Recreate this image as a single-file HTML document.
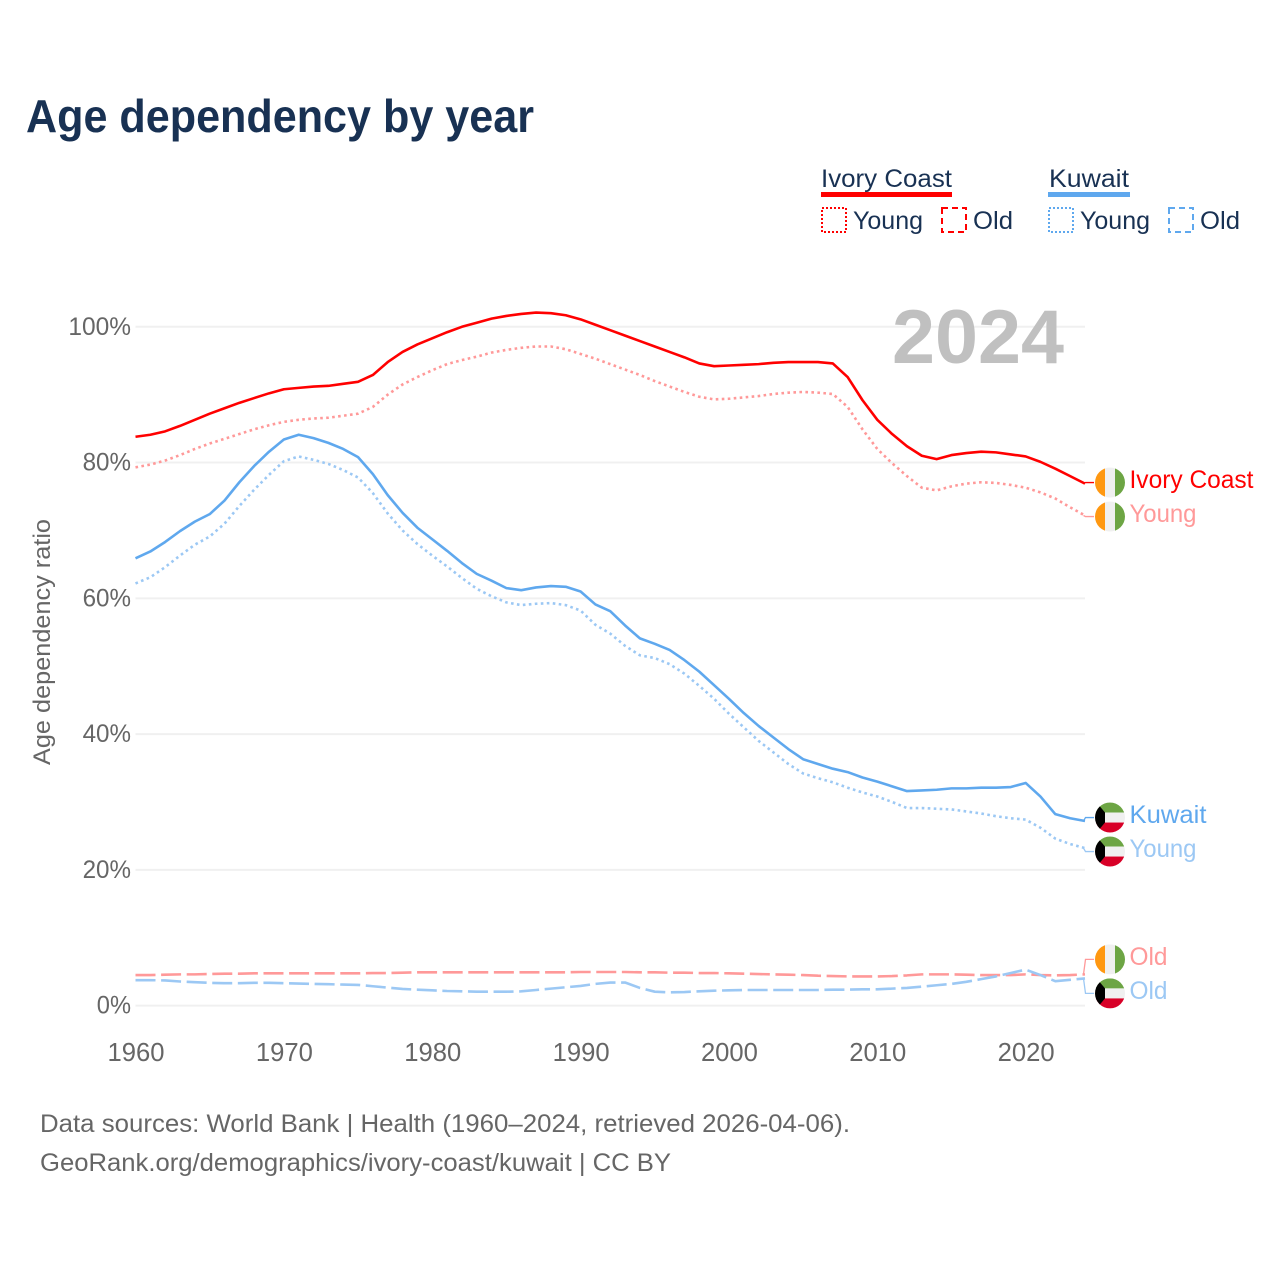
<!DOCTYPE html>
<html lang="en">
<head>
<meta charset="utf-8">
<title>Age dependency by year</title>
<style>
html,body{margin:0;padding:0;background:#fff;}
svg{display:block;font-family:"Liberation Sans",sans-serif;}
</style>
</head>
<body>
<svg id="chart" xmlns="http://www.w3.org/2000/svg" width="1280" height="1280" viewBox="0 0 1280 1280">
  <defs>
    <clipPath id="flag-clip"><circle cx="0" cy="0" r="15"></circle></clipPath>
  </defs>
  <rect x="0" y="0" width="1280" height="1280" fill="#ffffff"></rect>
  <text x="26" y="132" font-size="46" font-weight="700" fill="#183153" textLength="508" lengthAdjust="spacingAndGlyphs">Age dependency by year</text>

  <g>
    <text x="821" y="187" font-size="25" fill="#183153" textLength="131" lengthAdjust="spacingAndGlyphs">Ivory Coast</text>
    <rect x="821" y="192" width="131" height="5" fill="#ff0000"></rect>
    <rect x="822" y="208" width="24" height="24" fill="none" stroke="#ff0000" stroke-width="2" stroke-dasharray="2 2"></rect>
    <text x="853" y="229" font-size="25" fill="#183153" textLength="70" lengthAdjust="spacingAndGlyphs">Young</text>
    <rect x="942" y="208" width="24" height="24" fill="none" stroke="#ff0000" stroke-width="2" stroke-dasharray="6 4"></rect>
    <text x="973" y="229" font-size="25" fill="#183153" textLength="40" lengthAdjust="spacingAndGlyphs">Old</text>

    <text x="1049" y="187" font-size="25" fill="#183153" textLength="80" lengthAdjust="spacingAndGlyphs">Kuwait</text>
    <rect x="1048" y="192" width="82" height="5" fill="#5fa8ee"></rect>
    <rect x="1049" y="208" width="24" height="24" fill="none" stroke="#5fa8ee" stroke-width="2" stroke-dasharray="2 2"></rect>
    <text x="1080" y="229" font-size="25" fill="#183153" textLength="70" lengthAdjust="spacingAndGlyphs">Young</text>
    <rect x="1169" y="208" width="24" height="24" fill="none" stroke="#5fa8ee" stroke-width="2" stroke-dasharray="6 4"></rect>
    <text x="1200" y="229" font-size="25" fill="#183153" textLength="40" lengthAdjust="spacingAndGlyphs">Old</text>
  </g>

  <g id="grid"></g>
  <text x="892" y="363" font-size="76" font-weight="700" fill="#c0c0c0" textLength="172" lengthAdjust="spacingAndGlyphs">2024</text>
  <g id="axes"></g>
  <text transform="translate(50,765) rotate(-90)" x="0" y="0" font-size="24" fill="#666666" textLength="246" lengthAdjust="spacingAndGlyphs">Age dependency ratio</text>
  <g id="series"></g>
  <g id="labels"></g>

  <text x="40" y="1132" font-size="25" fill="#666666" textLength="810" lengthAdjust="spacingAndGlyphs">Data sources: World Bank | Health (1960–2024, retrieved 2026-04-06).</text>
  <text x="40" y="1171" font-size="25" fill="#666666" textLength="631" lengthAdjust="spacingAndGlyphs">GeoRank.org/demographics/ivory-coast/kuwait | CC BY</text>
</svg>

<script>
const startYear = 1960;
const endYear = 2024;
const yTicks = [0, 20, 40, 60, 80, 100];
const xTicks = [1960, 1970, 1980, 1990, 2000, 2010, 2020];

const ivoryTotal = [83.8,84.1,84.6,85.4,86.3,87.2,88.0,88.8,89.5,90.2,90.8,91.0,91.2,91.3,91.6,91.9,92.9,94.8,96.3,97.4,98.3,99.2,100.0,100.6,101.2,101.6,101.9,102.1,102.0,101.7,101.1,100.3,99.5,98.7,97.9,97.1,96.3,95.5,94.6,94.2,94.3,94.4,94.5,94.7,94.8,94.8,94.8,94.6,92.6,89.2,86.3,84.2,82.4,81.0,80.5,81.1,81.4,81.6,81.5,81.2,80.9,80.1,79.1,78.0,76.9];
const ivoryYoung = [79.3,79.7,80.3,81.1,82.0,82.8,83.5,84.2,84.9,85.5,86.0,86.3,86.5,86.6,86.9,87.2,88.2,90.0,91.5,92.6,93.6,94.5,95.1,95.6,96.2,96.6,96.9,97.1,97.1,96.7,96.0,95.3,94.5,93.7,92.9,92.0,91.2,90.4,89.7,89.3,89.4,89.6,89.8,90.1,90.3,90.4,90.3,90.1,88.2,84.9,82.0,79.9,78.0,76.3,75.9,76.5,76.9,77.1,77.0,76.7,76.3,75.6,74.7,73.4,72.2];
const ivoryOld = [4.5,4.5,4.55,4.6,4.6,4.65,4.7,4.7,4.75,4.75,4.75,4.75,4.75,4.75,4.75,4.75,4.8,4.8,4.85,4.9,4.9,4.9,4.9,4.9,4.9,4.9,4.9,4.9,4.9,4.9,4.95,4.95,4.95,4.95,4.9,4.9,4.85,4.85,4.8,4.8,4.75,4.7,4.65,4.6,4.55,4.5,4.4,4.35,4.3,4.3,4.3,4.35,4.45,4.6,4.6,4.6,4.55,4.5,4.5,4.5,4.6,4.5,4.45,4.5,4.6];
const kuwaitTotal = [65.9,66.9,68.3,69.9,71.3,72.4,74.4,77.1,79.5,81.6,83.4,84.1,83.6,82.9,82.0,80.8,78.3,75.2,72.6,70.4,68.7,67.0,65.2,63.6,62.6,61.5,61.2,61.6,61.8,61.7,61.0,59.1,58.1,56.0,54.1,53.3,52.4,50.9,49.2,47.2,45.2,43.1,41.2,39.5,37.8,36.3,35.6,34.9,34.4,33.6,33.0,32.3,31.6,31.7,31.8,32.0,32.0,32.1,32.1,32.2,32.8,30.8,28.2,27.6,27.2];
const kuwaitYoung = [62.2,63.1,64.6,66.3,67.9,69.1,71.0,73.6,76.0,78.2,80.2,80.9,80.4,79.8,78.9,77.8,75.5,72.5,70.0,68.0,66.3,64.7,63.0,61.4,60.3,59.4,59.0,59.2,59.3,59.0,58.2,56.1,54.8,53.0,51.6,51.2,50.3,48.9,47.1,45.2,43.0,41.0,39.0,37.3,35.6,34.2,33.5,32.9,32.1,31.4,30.8,30.0,29.1,29.1,29.0,28.9,28.6,28.3,27.9,27.6,27.4,26.2,24.6,23.8,23.2];
const kuwaitOld = [3.75,3.75,3.7,3.55,3.45,3.35,3.3,3.3,3.35,3.35,3.3,3.25,3.2,3.15,3.1,3.05,2.85,2.65,2.45,2.35,2.25,2.15,2.1,2.05,2.05,2.05,2.1,2.3,2.5,2.7,2.9,3.2,3.4,3.4,2.6,2.05,1.95,2.0,2.1,2.2,2.25,2.3,2.3,2.3,2.3,2.3,2.3,2.35,2.35,2.4,2.4,2.5,2.6,2.8,3.0,3.2,3.5,3.9,4.3,4.8,5.3,4.5,3.6,3.8,4.0];

const NS = 'http://www.w3.org/2000/svg';
const xLeft = 135.5, xRight = 1085;
const yZero = 1005.6, yHundred = 326.8;
function xScale(year) { return xLeft + (year - startYear) / (endYear - startYear) * (xRight - xLeft); }
function yScale(v) { return yZero + v / 100 * (yHundred - yZero); }

function make(tag, attrs, parent) {
  const el = document.createElementNS(NS, tag);
  for (const k in attrs) el.setAttribute(k, attrs[k]);
  parent.appendChild(el);
  return el;
}

const gridG = document.getElementById('grid');
const axesG = document.getElementById('axes');
const seriesG = document.getElementById('series');
const labelsG = document.getElementById('labels');

yTicks.forEach(function (t) {
  const line = make('line', { x1: xLeft, x2: xRight, y1: yScale(t), y2: yScale(t), stroke: '#f0f0f0', 'stroke-width': 2 }, gridG);
  
  
  const str = t + '%';
  const w = (str.length - 1) * 14.2 + 20;
  const label = make('text', { x: 131 - w, y: yScale(t) + 8, 'font-size': 25, fill: '#666666', textLength: w, lengthAdjust: 'spacingAndGlyphs' }, axesG);
  label.textContent = str;
  
  
});

xTicks.forEach(function (t) {
  const label = make('text', { x: xScale(t) - 28, y: 1061, 'font-size': 25.6, fill: '#666666', textLength: 57, lengthAdjust: 'spacingAndGlyphs' }, axesG);
  label.textContent = String(t);
  
  
});

function drawFlag(kind, cy, parent) {
  const g = make('g', { transform: 'translate(1110,' + cy + ')', 'clip-path': 'url(#flag-clip)' }, parent);
  
  
  if (kind === 'ivory-coast') {
    make('rect', { x: -15, y: -15, width: 10, height: 30, fill: '#ff9811' }, g);
    make('rect', { x: -5, y: -15, width: 10, height: 30, fill: '#f0f0f0' }, g);
    make('rect', { x: 5, y: -15, width: 10, height: 30, fill: '#6da544' }, g);
  } else {
    make('rect', { x: -15, y: -15, width: 30, height: 10, fill: '#6da544' }, g);
    make('rect', { x: -15, y: -5, width: 30, height: 10, fill: '#f0f0f0' }, g);
    make('rect', { x: -15, y: 5, width: 30, height: 10, fill: '#d80027' }, g);
    make('polygon', { points: '-15,-17 -5,-5 -5,5 -15,17', fill: '#000000' }, g);
  }
}

function drawSeries(values, color, dash, name) {
  const pts = values.map(function (v, i) { return xScale(startYear + i).toFixed(2) + ',' + yScale(v).toFixed(2); }).join(' ');
  const attrs = { points: pts, fill: 'none', stroke: color, 'stroke-width': 2.6, 'stroke-linejoin': 'round' };
  if (dash) attrs['stroke-dasharray'] = dash;
  const line = make('polyline', attrs, seriesG);
  
  
}

function drawEndLabel(text, value, labelY, color, textWidth, flag, name) {
  const endX = xScale(endYear), endY = yScale(value);
  const conn = make('polyline', { points: (endX - 1.5) + ',' + endY + ' ' + (endX + 0.5) + ',' + labelY + ' ' + 1094 + ',' + labelY, fill: 'none', stroke: color, 'stroke-width': 1.3 }, labelsG);
  
  
  drawFlag(flag, labelY, labelsG);
  const t = make('text', { x: 1129.5, y: labelY + 5.5, 'font-size': 25, fill: color, textLength: textWidth, lengthAdjust: 'spacingAndGlyphs' }, labelsG);
  t.textContent = text;
  
  
}

function spreadPair(a, b) {
  const mid = (yScale(a) + yScale(b)) / 2;
  const top = mid - 17, bottom = mid + 17;
  return yScale(a) <= yScale(b) ? [top, bottom] : [bottom, top];
}

const red = '#ff0000', redLight = '#ff9999', blue = '#5fa8ee', blueLight = '#9cc8f4';
const dotted = '2.6 3.4', dashed = '20 5.6';

drawSeries(ivoryOld, redLight, dashed, 'ivory-coast-old');
drawSeries(kuwaitOld, blueLight, dashed, 'kuwait-old');
drawSeries(kuwaitYoung, blueLight, dotted, 'kuwait-young');
drawSeries(kuwaitTotal, blue, null, 'kuwait-total');
drawSeries(ivoryYoung, redLight, dotted, 'ivory-coast-young');
drawSeries(ivoryTotal, red, null, 'ivory-coast-total');

const ivoryPair = spreadPair(ivoryTotal[ivoryTotal.length - 1], ivoryYoung[ivoryYoung.length - 1]);
const kuwaitPair = spreadPair(kuwaitTotal[kuwaitTotal.length - 1], kuwaitYoung[kuwaitYoung.length - 1]);
const oldPair = [
  (yScale(ivoryOld[ivoryOld.length - 1]) + yScale(kuwaitOld[kuwaitOld.length - 1])) / 2 - 17,
  (yScale(ivoryOld[ivoryOld.length - 1]) + yScale(kuwaitOld[kuwaitOld.length - 1])) / 2 + 17
];

drawEndLabel('Ivory Coast', ivoryTotal[ivoryTotal.length - 1], ivoryPair[0], red, 124, 'ivory-coast', 'ivory-coast');
drawEndLabel('Young', ivoryYoung[ivoryYoung.length - 1], ivoryPair[1], redLight, 67, 'ivory-coast', 'ivory-coast-young');
drawEndLabel('Kuwait', kuwaitTotal[kuwaitTotal.length - 1], kuwaitPair[0], blue, 77, 'kuwait', 'kuwait');
drawEndLabel('Young', kuwaitYoung[kuwaitYoung.length - 1], kuwaitPair[1], blueLight, 67, 'kuwait', 'kuwait-young');
drawEndLabel('Old', ivoryOld[ivoryOld.length - 1], oldPair[0], redLight, 38, 'ivory-coast', 'ivory-coast-old');
drawEndLabel('Old', kuwaitOld[kuwaitOld.length - 1], oldPair[1], blueLight, 38, 'kuwait', 'kuwait-old');
</script>
</body>
</html>
